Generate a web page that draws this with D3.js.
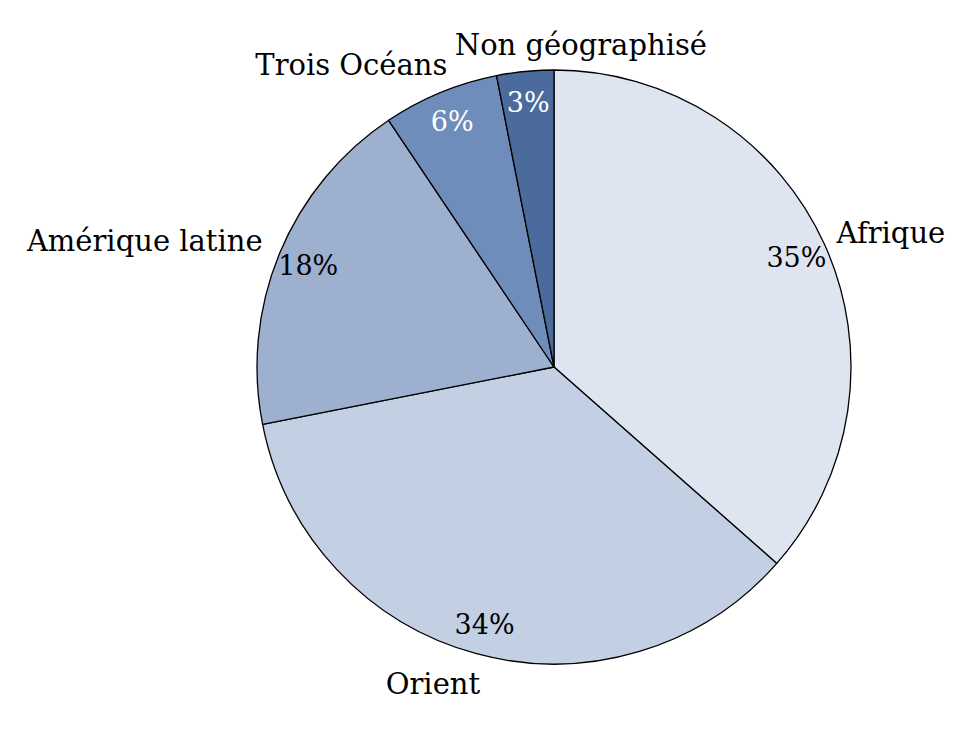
<!DOCTYPE html>
<html><head><meta charset="utf-8">
<script src="https://cdn.jsdelivr.net/npm/d3@7"></script>
<style>body{margin:0;background:#fff}svg{display:block}</style>
</head><body>
<svg id="c" width="969" height="734"></svg>
<script>
const categories = ["Afrique", "Orient", "Amérique latine", "Trois Océans", "Non géographisé"];
const values = [36.5, 35.4, 18.7, 6.3, 3.1];
const pctLabels = ["35%", "34%", "18%", "6%", "3%"];
const colors = ["#dfe5f0", "#c3cfe2", "#9db0cf", "#6e8dbb", "#4b6b9c"];
const pctColors = ["#000", "#000", "#000", "#fff", "#fff"];

const svg = d3.select("#c");
const cx = 554, cy = 367, R = 297;
const g = svg.append("g").attr("transform", `translate(${cx},${cy})`);
const pie = d3.pie().sort(null).value(d => d)(values);
const arc = d3.arc().innerRadius(0).outerRadius(R);

g.selectAll("path").data(pie).join("path")
  .attr("d", arc).attr("fill", (d, i) => colors[i])
  .attr("stroke", "#000").attr("stroke-width", 1.3).attr("stroke-linejoin", "round");

const font = "'DejaVu Serif', serif";
const pctR = 266;
g.selectAll("text.pct").data(pie).join("text").attr("class", "pct")
  .attr("x", d => pctR * Math.sin((d.startAngle + d.endAngle) / 2))
  .attr("y", d => -pctR * Math.cos((d.startAngle + d.endAngle) / 2))
  .attr("dy", "0.36em").attr("text-anchor", "middle")
  .attr("font-family", font).attr("font-size", 27)
  .attr("fill", (d, i) => pctColors[i])
  .text((d, i) => pctLabels[i]);

// outer label anchoring (layout only): baseline offsets from anchor point
const anchors = [
  {a: "start", dx: 0, dy: 4},
  {a: "end", dx: 7, dy: 28},
  {a: "end", dx: -5, dy: 3},
  {a: "end", dx: 12, dy: -6},
  {a: "middle", dx: 57, dy: -3}
];
const labR = 310;
g.selectAll("text.lab").data(pie).join("text").attr("class", "lab")
  .attr("x", (d, i) => labR * Math.sin((d.startAngle + d.endAngle) / 2) + anchors[i].dx)
  .attr("y", (d, i) => -labR * Math.cos((d.startAngle + d.endAngle) / 2) + anchors[i].dy)
  .attr("text-anchor", (d, i) => anchors[i].a)
  .attr("font-family", font).attr("font-size", 29)
  .text((d, i) => categories[i]);
</script>
</body></html>
